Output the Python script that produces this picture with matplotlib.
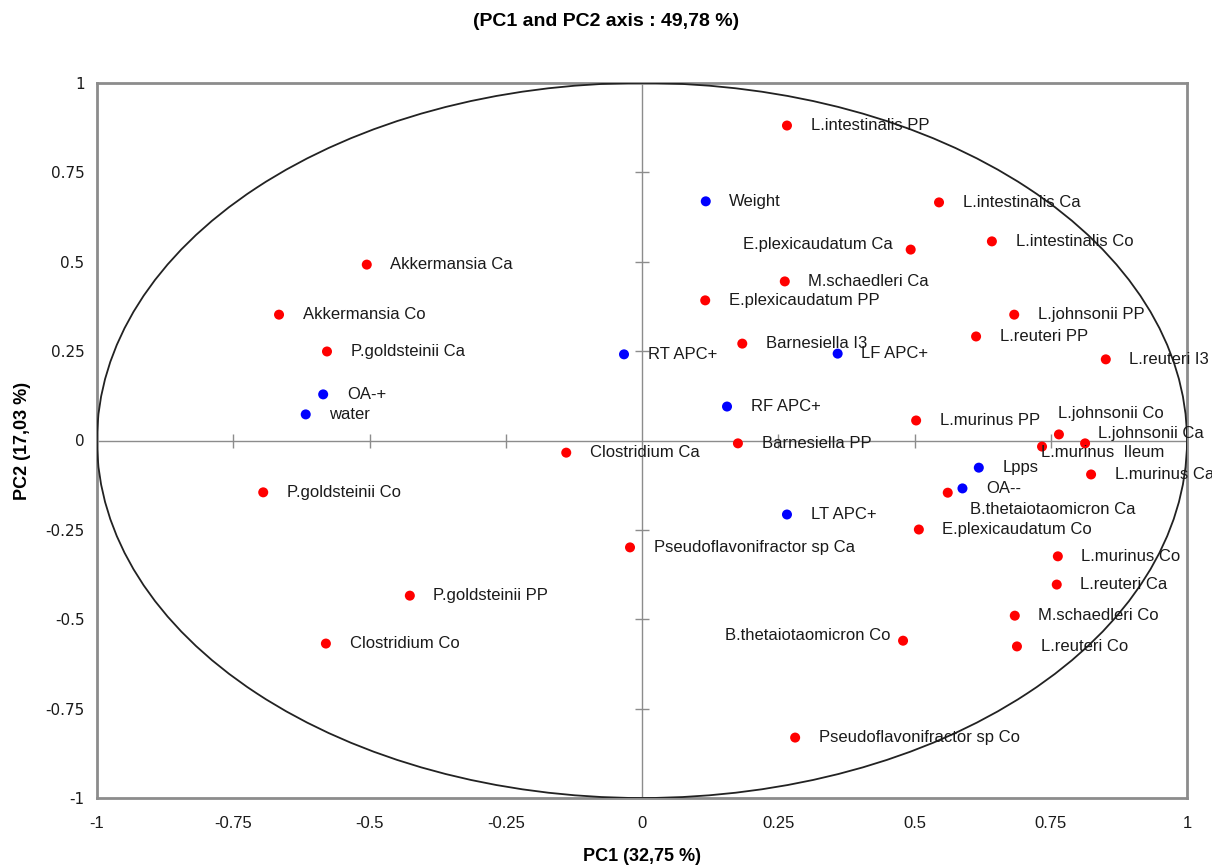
import matplotlib
matplotlib.use("Agg")
import matplotlib.pyplot as plt
from matplotlib.patches import Circle
from matplotlib import font_manager

obs_names = [
    "L.intestinalis PP", "L.intestinalis Ca", "E.plexicaudatum Ca", "L.intestinalis Co",
    "Akkermansia Ca", "M.schaedleri Ca", "E.plexicaudatum PP", "Akkermansia Co",
    "L.johnsonii PP", "L.reuteri PP", "Barnesiella I3", "P.goldsteinii Ca",
    "L.reuteri I3", "L.murinus PP", "L.johnsonii Co", "L.johnsonii Ca",
    "L.murinus  Ileum", "Barnesiella PP", "Clostridium Ca", "L.murinus Ca",
    "B.thetaiotaomicron Ca", "P.goldsteinii Co", "E.plexicaudatum Co",
    "Pseudoflavonifractor sp Ca", "L.murinus Co", "L.reuteri Ca", "P.goldsteinii PP",
    "M.schaedleri Co", "B.thetaiotaomicron Co", "Clostridium Co", "L.reuteri Co",
    "Pseudoflavonifractor sp Co",
]
obs_pc1 = [
    0.266, 0.545, 0.493, 0.642,
    -0.505, 0.262, 0.116, -0.666,
    0.683, 0.613, 0.184, -0.578,
    0.851, 0.503, 0.765, 0.813,
    0.734, 0.176, -0.139, 0.824,
    0.561, -0.695, 0.508,
    -0.022, 0.763, 0.761, -0.426,
    0.684, 0.479, -0.580, 0.688,
    0.281,
]
obs_pc2 = [
    0.881, 0.666, 0.534, 0.557,
    0.492, 0.445, 0.392, 0.352,
    0.352, 0.291, 0.271, 0.249,
    0.227, 0.056, 0.017, -0.008,
    -0.017, -0.008, -0.034, -0.095,
    -0.146, -0.145, -0.249,
    -0.299, -0.324, -0.403, -0.434,
    -0.490, -0.560, -0.568, -0.576,
    -0.831,
]

# variables (blue)
var_names = ["Weight", "RT APC+", "LF APC+", "OA-+", "water", "RF APC+", "Lpps", "OA--", "LT APC+"]
var_pc1 = [0.117, -0.033, 0.359, -0.585, -0.617, 0.156, 0.618, 0.588, 0.266]
var_pc2 = [0.669, 0.241, 0.243, 0.129, 0.073, 0.095, -0.076, -0.134, -0.207]

ticks = [-1, -0.75, -0.5, -0.25, 0, 0.25, 0.5, 0.75, 1]
tick_labels = ["-1", "-0.75", "-0.5", "-0.25", "0", "0.25", "0.5", "0.75", "1"]
inner_ticks = [-0.75, -0.5, -0.25, 0.25, 0.5, 0.75]

# label placement (points), default is to the right of the dot
DEFAULT_OFFSET = (17, 0, "left")
label_offsets = {
    "E.plexicaudatum Ca": (-13, 4, "right"),
    "B.thetaiotaomicron Co": (-9, 4, "right"),
    "L.johnsonii Co": (-1, 15, "left"),
    "L.johnsonii Ca": (9, 7, "left"),
    "L.murinus  Ileum": (-1, -4, "left"),
    "B.thetaiotaomicron Ca": (16, -12, "left"),
}

installed = {f.name for f in font_manager.fontManager.ttflist}
LABEL_FONT = "Liberation Sans" if "Liberation Sans" in installed else "DejaVu Sans"
TICK_FONT = "Liberation Sans Narrow" if "Liberation Sans Narrow" in installed else LABEL_FONT

plt.rcParams["font.family"] = [LABEL_FONT, "DejaVu Sans"]

fig = plt.figure(figsize=(12.12, 8.67), dpi=100)
ax = fig.add_axes([97 / 1212, 1 - 798 / 867, 1090 / 1212, 715 / 867])
ax.set_xlim(-1, 1)
ax.set_ylim(-1, 1)

# zero lines with small crossing ticks
ax.axhline(0, color="#8c8c8c", lw=1, zorder=1)
ax.axvline(0, color="#8c8c8c", lw=1, zorder=1)
ax.plot(inner_ticks, [0] * len(inner_ticks), ls="none", marker="|", ms=10,
        mew=1, color="#8c8c8c", zorder=1)
ax.plot([0] * len(inner_ticks), inner_ticks, ls="none", marker="_", ms=10,
        mew=1, color="#8c8c8c", zorder=1)

# correlation circle (looks like an ellipse since the aspect is free)
ax.add_patch(Circle((0, 0), 1, fill=False, ec="#222222", lw=1.3, zorder=3))

ax.scatter(obs_pc1, obs_pc2, s=52, color="#ff0000", zorder=4, edgecolors="none")
ax.scatter(var_pc1, var_pc2, s=52, color="#0000ff", zorder=4, edgecolors="none")

for names, xs, ys in [(obs_names, obs_pc1, obs_pc2), (var_names, var_pc1, var_pc2)]:
    for name, x, y in zip(names, xs, ys):
        dx, dy, ha = label_offsets.get(name, DEFAULT_OFFSET)
        ax.annotate(name, (x, y), xytext=(dx, dy), textcoords="offset points",
                    ha=ha, va="center", fontsize=12, color="#1a1a1a", zorder=5)

ax.set_xticks(ticks)
ax.set_xticklabels(tick_labels, fontsize=12, family=TICK_FONT)
ax.set_yticks(ticks)
ax.set_yticklabels(tick_labels, fontsize=11, family="DejaVu Sans")
ax.tick_params(axis="x", length=0, pad=13, colors="#1a1a1a")
ax.tick_params(axis="y", length=0, pad=9, colors="#1a1a1a")

for sp in ax.spines.values():
    sp.set_color("#8c8c8c")
    sp.set_linewidth(2)

ax.set_xlabel("PC1 (32,75 %)", fontsize=13, fontweight="bold", labelpad=12)
ax.set_ylabel("PC2 (17,03 %)", fontsize=13, fontweight="bold", labelpad=10)
fig.text(0.5, 1 - 22 / 867, "(PC1 and PC2 axis : 49,78 %)", ha="center", va="center",
         fontsize=14, fontweight="bold")

fig.savefig("out.png", dpi=100)
